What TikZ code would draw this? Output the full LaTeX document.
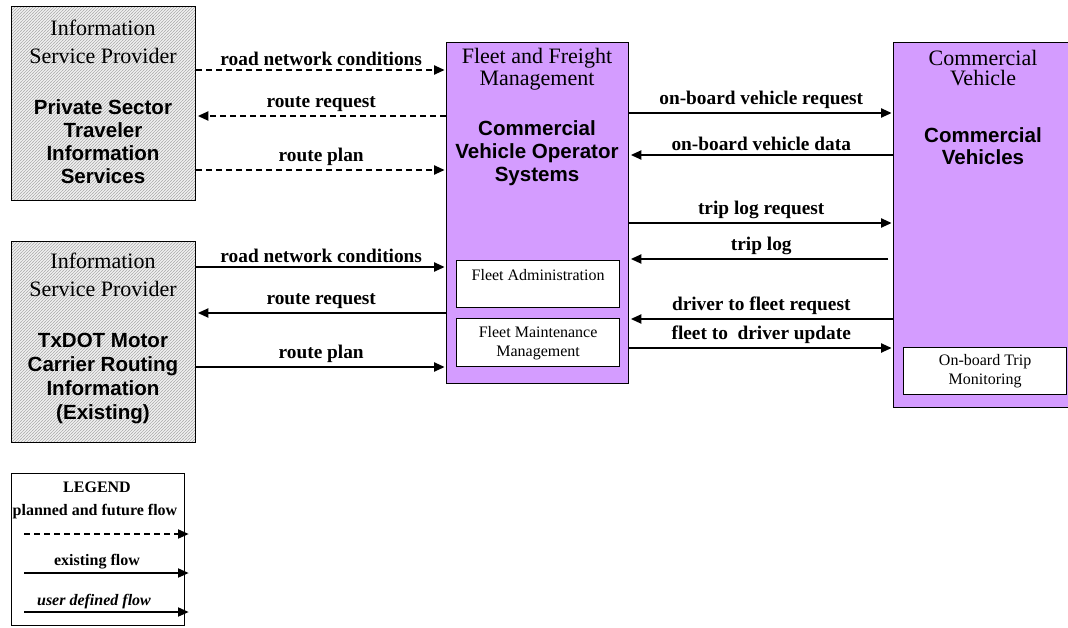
\documentclass[tikz,border=0pt]{standalone}
\usepackage{fontspec}
\setmainfont{Liberation Serif}
\setsansfont{Liberation Sans}
\usepackage{tikz}
\usetikzlibrary{arrows.meta,positioning,patterns}
\definecolor{cvpurple}{RGB}{212,156,255}
% fine diagonal hatching of the terminator boxes
\pgfdeclarepatternformonly{finehatch}{\pgfqpoint{-1pt}{-1pt}}{\pgfqpoint{3.25pt}{3.25pt}}{\pgfqpoint{2.25pt}{2.25pt}}{%
  \pgfsetlinewidth{0.35pt}%
  \pgfpathmoveto{\pgfqpoint{-0.5pt}{-0.5pt}}%
  \pgfpathlineto{\pgfqpoint{2.75pt}{2.75pt}}%
  \pgfusepath{stroke}%
}
\tikzset{%
  % boxes
  sysbox/.style={draw, line width=1.1pt, anchor=north west, inner sep=0pt},
  isp/.style={sysbox, preaction={fill=black!5}, pattern=finehatch, pattern color=black!30},
  cvs/.style={sysbox, fill=cvpurple},
  subsys/.style={draw, line width=0.9pt, fill=white, anchor=north west, inner sep=0pt,
    align=center, font=\fontsize{12}{14.25}\selectfont},
  legendbox/.style={draw, line width=1.1pt, anchor=north west, inner sep=0pt, fill=white},
  % texts
  title/.style={align=center, inner sep=0pt, font=\fontsize{16.5}{16.5}\selectfont},
  pname/.style={align=center, inner sep=0pt, font=\sffamily\bfseries\fontsize{15.4}{17.25}\selectfont},
  flowlbl/.style={midway, above, inner sep=2.2pt, font=\bfseries\fontsize{14.5}{14.5}\selectfont},
  lgd/.style={inner sep=0pt, font=\bfseries\fontsize{12}{12}\selectfont},
  % edge styles
  flow/.style={-{Triangle[length=8pt,width=6.8pt]}, line width=1.6pt, shorten >=1pt},
  plan/.style={flow, dash pattern=on 4.5pt off 3pt},
}

\begin{document}
\begin{tikzpicture}[x=0.75pt, y=-0.75pt]
  \useasboundingbox (0,0) rectangle (1068,628);
  \clip (0,0) rectangle (1068,628);

  % terminators
  \node[isp, minimum width=138pt, minimum height=145.5pt] (pstis) at (11,6) {};
  \node[isp, minimum width=138pt, minimum height=150.75pt] (txdot) at (11,241) {};
  \node[cvs, minimum width=136.5pt, minimum height=255.75pt] (cvos) at (446,42) {};
  \node[cvs, minimum width=150pt, minimum height=273.75pt] (cveh) at (893,42) {};

  \node[title, font=\fontsize{16.5}{21}\selectfont] at (103,42) {Information\\Service Provider};
  \node[pname] at (103,142) {Private Sector\\Traveler\\Information\\Services};
  \node[title, font=\fontsize{16.5}{20.5}\selectfont] at (103,275) {Information\\Service Provider};
  \node[pname, font=\sffamily\bfseries\fontsize{15.4}{18}\selectfont] at (103,379)
    {TxDOT Motor\\Carrier Routing\\Information\\(Existing)};
  \node[title] at (537,69) {Fleet and Freight\\Management};
  \node[pname] at (537,153) {Commercial\\Vehicle Operator\\Systems};
  \node[title, font=\fontsize{16.5}{15}\selectfont] at (983,68) {Commercial\\Vehicle};
  \node[pname, font=\sffamily\bfseries\fontsize{15.4}{16.5}\selectfont] at (983,146) {Commercial\\Vehicles};

  % equipment packages
  \node[subsys, minimum width=122.25pt, minimum height=35.25pt] (fadm) at (456,260) {Fleet Administration\\\mbox{}};
  \node[subsys, minimum width=122.25pt, minimum height=36pt, below=7.5pt of fadm.south west, anchor=north west] (fmaint)
    {Fleet Maintenance\\Management};
  \node[subsys, minimum width=122.25pt, minimum height=35.25pt] (obtm) at (903,347) {On-board Trip\\Monitoring};

  % planned flows
  \draw[plan] (pstis.east |- 0,70) -- (cvos.west |- 0,70) node[flowlbl] {road network conditions};
  \draw[plan] (cvos.west |- 0,116) -- (pstis.east |- 0,116) node[flowlbl] {route request};
  \draw[plan] (pstis.east |- 0,170) -- (cvos.west |- 0,170) node[flowlbl] {route plan};

  % existing flows
  \draw[flow] (txdot.east |- 0,267) -- (cvos.west |- 0,267) node[flowlbl] {road network conditions};
  \draw[flow] (cvos.west |- 0,313) -- (txdot.east |- 0,313) node[flowlbl] {route request};
  \draw[flow] (txdot.east |- 0,367) -- (cvos.west |- 0,367) node[flowlbl] {route plan};

  \draw[flow] (cvos.east |- 0,113) -- (cveh.west |- 0,113) node[flowlbl] {on-board vehicle request};
  \draw[flow] (cveh.west |- 0,155) -- (cvos.east |- 0,155) node[flowlbl] {on-board vehicle data};
  \draw[flow] (cvos.east |- 0,223) -- (cveh.west |- 0,223) node[flowlbl] {trip log request};
  \draw[flow, shorten <=3.5pt] (cveh.west |- 0,259) -- (cvos.east |- 0,259) node[flowlbl] {trip log};
  \draw[flow] (cveh.west |- 0,319) -- (cvos.east |- 0,319) node[flowlbl] {driver to fleet request};
  \draw[flow] (cvos.east |- 0,348) -- (cveh.west |- 0,348) node[flowlbl] {fleet to~ driver update};

  % legend
  \node[legendbox, minimum width=129.75pt, minimum height=114pt] (legend) at (11,473) {};
  \node[lgd] at (97,487) {LEGEND};
  \node[lgd] at (95,512) {planned and future flow};
  \node[lgd] at (97,562) {existing flow};
  \node[lgd, font=\bfseries\itshape\fontsize{12}{12}\selectfont] at (94,602) {user defined flow};
  \coordinate (lp0) at (24,534);  \coordinate (lp1) at (190,534);
  \coordinate (le0) at (24,573);  \coordinate (le1) at (190,573);
  \coordinate (lu0) at (24,612);  \coordinate (lu1) at (190,612);
  \draw[plan, line width=1.3pt] (lp0) -- (lp1);
  \draw[flow, line width=1.3pt] (le0) -- (le1);
  \draw[flow, line width=1.3pt] (lu0) -- (lu1);

\end{tikzpicture}
\end{document}
